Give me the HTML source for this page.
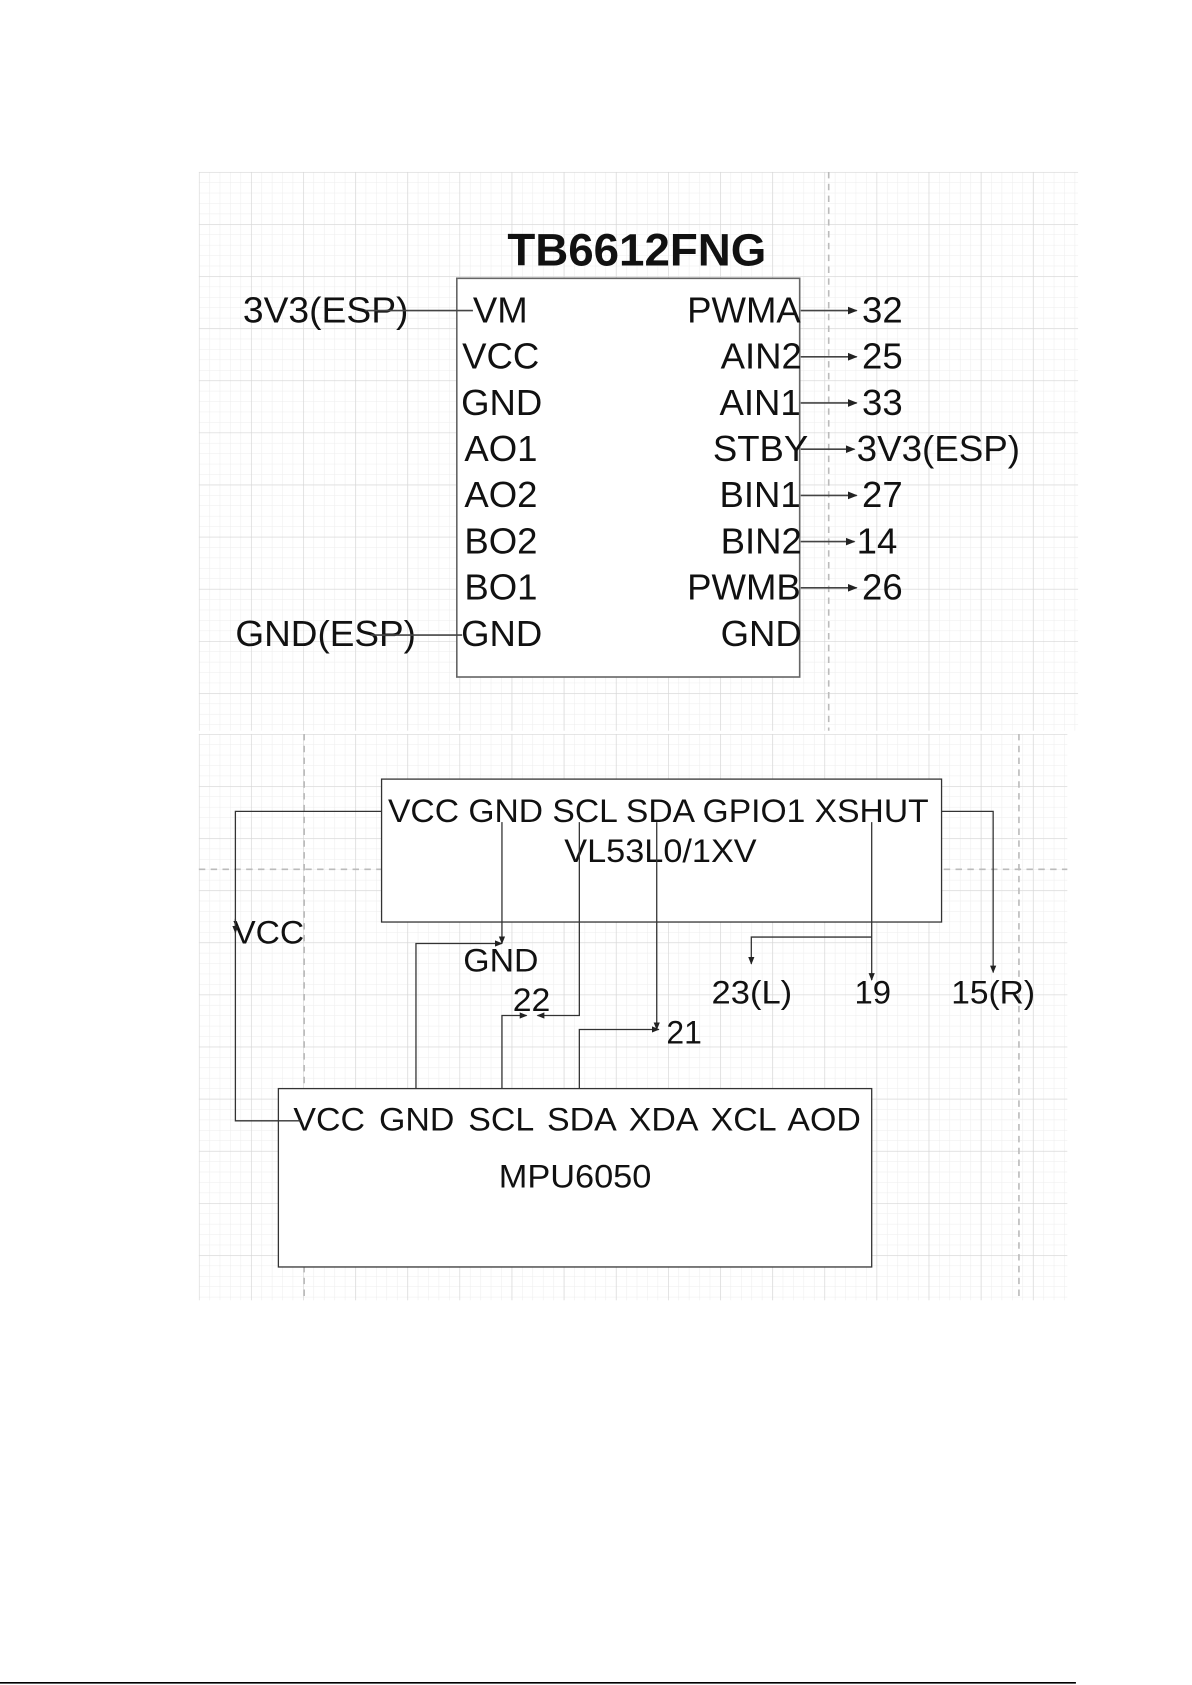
<!DOCTYPE html>
<html><head><meta charset="utf-8"><style>
html,body{margin:0;padding:0;background:#fff;}
svg{display:block;}
text{font-family:"Liberation Sans",Arial,sans-serif;fill:#111;}
</style></head><body>
<svg width="1192" height="1685" viewBox="0 0 1109 1568" preserveAspectRatio="none" xmlns="http://www.w3.org/2000/svg">
<defs>
<pattern id="g" width="9.7" height="9.7" patternUnits="userSpaceOnUse" x="185" y="160">
<path d="M0 0H9.7M0 0V9.7" stroke="#ededed" stroke-width="1" fill="none"/>
</pattern>
<pattern id="G" width="48.5" height="48.5" patternUnits="userSpaceOnUse" x="185" y="160">
<path d="M0 0H48.5M0 0V48.5" stroke="#d6d6d6" stroke-width="1.2" fill="none"/>
</pattern>
<pattern id="g2" width="9.7" height="9.7" patternUnits="userSpaceOnUse" x="185" y="683">
<path d="M0 0H9.7M0 0V9.7" stroke="#ededed" stroke-width="1" fill="none"/>
</pattern>
<pattern id="G2" width="48.5" height="48.5" patternUnits="userSpaceOnUse" x="185" y="683">
<path d="M0 0H48.5M0 0V48.5" stroke="#d6d6d6" stroke-width="1.2" fill="none"/>
</pattern>
<marker id="a" viewBox="0 0 10 10" refX="9" refY="5" markerWidth="6" markerHeight="6" orient="auto"><path d="M0 1L10 5L0 9z" fill="#222"/></marker>
</defs>
<rect x="185" y="160" width="818" height="520" fill="url(#g)"/>
<rect x="185" y="160" width="818" height="520" fill="url(#G)"/>
<line x1="771" y1="160" x2="771" y2="680" stroke="#bbb" stroke-dasharray="6,5" stroke-width="1.5"/>
<rect x="185" y="683" width="808" height="527" fill="url(#g2)"/>
<rect x="185" y="683" width="808" height="527" fill="url(#G2)"/>
<line x1="283" y1="683" x2="283" y2="1210" stroke="#bbb" stroke-dasharray="6,5" stroke-width="1.5"/>
<line x1="948" y1="683" x2="948" y2="1210" stroke="#bbb" stroke-dasharray="6,5" stroke-width="1.5"/>
<line x1="185" y1="809" x2="993" y2="809" stroke="#bbb" stroke-dasharray="6,5" stroke-width="1.5"/>

<text x="472" y="247" font-size="42" font-weight="bold" textLength="241" lengthAdjust="spacingAndGlyphs">TB6612FNG</text>
<rect x="425" y="259" width="319" height="371" fill="#fff" stroke="#666" stroke-width="1.5"/>
<g font-size="34">
<text x="440" y="300">VM</text>
<text x="430" y="343">VCC</text>
<text x="429" y="386">GND</text>
<text x="432" y="429">AO1</text>
<text x="432" y="472">AO2</text>
<text x="432" y="515">BO2</text>
<text x="432" y="558">BO1</text>
<text x="429" y="601">GND</text>
<g text-anchor="end">
<text x="745" y="300">PWMA</text>
<text x="746" y="343">AIN2</text>
<text x="745" y="386">AIN1</text>
<text x="752" y="429">STBY</text>
<text x="745" y="472">BIN1</text>
<text x="746" y="515">BIN2</text>
<text x="745" y="558">PWMB</text>
<text x="746" y="601">GND</text>
</g>
<text x="802" y="300">32</text>
<text x="802" y="343">25</text>
<text x="802" y="386">33</text>
<text x="797" y="429" textLength="152" lengthAdjust="spacingAndGlyphs">3V3(ESP)</text>
<text x="802" y="472">27</text>
<text x="797" y="515">14</text>
<text x="802" y="558">26</text>
<text x="226" y="300" textLength="154" lengthAdjust="spacingAndGlyphs">3V3(ESP)</text>
<text x="219" y="601" textLength="168" lengthAdjust="spacingAndGlyphs">GND(ESP)</text>
</g>
<g stroke="#444" stroke-width="1.5" fill="none" marker-end="url(#a)">
<line x1="745" y1="289" x2="797" y2="289"/>
<line x1="745" y1="332" x2="797" y2="332"/>
<line x1="745" y1="375" x2="797" y2="375"/>
<line x1="745" y1="418" x2="795" y2="418"/>
<line x1="745" y1="461" x2="797" y2="461"/>
<line x1="745" y1="504" x2="795" y2="504"/>
<line x1="745" y1="547" x2="797" y2="547"/>
</g>
<g stroke="#444" stroke-width="1.5">
<line x1="340" y1="289" x2="440" y2="289"/>
<line x1="345" y1="591" x2="430" y2="591"/>
</g>

<rect x="355" y="725" width="521" height="133" fill="#fff" stroke="#333" stroke-width="1.2"/>
<rect x="259" y="1013" width="552" height="166" fill="#fff" stroke="#333" stroke-width="1.2"/>
<g font-size="30">
<text x="361" y="765" textLength="503" lengthAdjust="spacingAndGlyphs">VCC GND SCL SDA GPIO1 XSHUT</text>
<text x="525" y="802" textLength="179" lengthAdjust="spacingAndGlyphs">VL53L0/1XV</text>
<text x="273" y="1052" textLength="528" lengthAdjust="spacingAndGlyphs" word-spacing="4">VCC GND  SCL SDA XDA  XCL AOD</text>
<text x="464" y="1105" textLength="142" lengthAdjust="spacingAndGlyphs">MPU6050</text>
<text x="217" y="878" textLength="66" lengthAdjust="spacingAndGlyphs">VCC</text>
<text x="431" y="904" textLength="70" lengthAdjust="spacingAndGlyphs">GND</text>
<text x="477" y="941" textLength="35" lengthAdjust="spacingAndGlyphs">22</text>
<text x="620" y="971" textLength="33" lengthAdjust="spacingAndGlyphs">21</text>
<text x="662" y="934" textLength="75" lengthAdjust="spacingAndGlyphs">23(L)</text>
<text x="795" y="934" textLength="34" lengthAdjust="spacingAndGlyphs">19</text>
<text x="885" y="934" textLength="78" lengthAdjust="spacingAndGlyphs">15(R)</text>
</g>
<g stroke="#333" stroke-width="1.2" fill="none">
<polyline points="355,755 219,755 219,1043 280,1043"/>
<polyline points="467,765 467,878" marker-end="url(#a)"/>
<polyline points="387,1013 387,878 467,878" marker-end="url(#a)"/>
<polyline points="539,765 539,945 500,945" marker-end="url(#a)"/>
<polyline points="467,1013 467,945 490,945" marker-end="url(#a)"/>
<polyline points="611,765 611,958" marker-end="url(#a)"/>
<polyline points="539,1013 539,958 613,958" marker-end="url(#a)"/>
<polyline points="811,765 811,912" marker-end="url(#a)"/>
<polyline points="811,872 699,872 699,897" marker-end="url(#a)"/>
<polyline points="876,755 924,755 924,905" marker-end="url(#a)"/>
<line x1="219" y1="855" x2="219" y2="868" marker-end="url(#a)"/>
</g>
<line x1="0" y1="1566" x2="1001" y2="1566" stroke="#000" stroke-width="1.5"/>
</svg>
</body></html>
